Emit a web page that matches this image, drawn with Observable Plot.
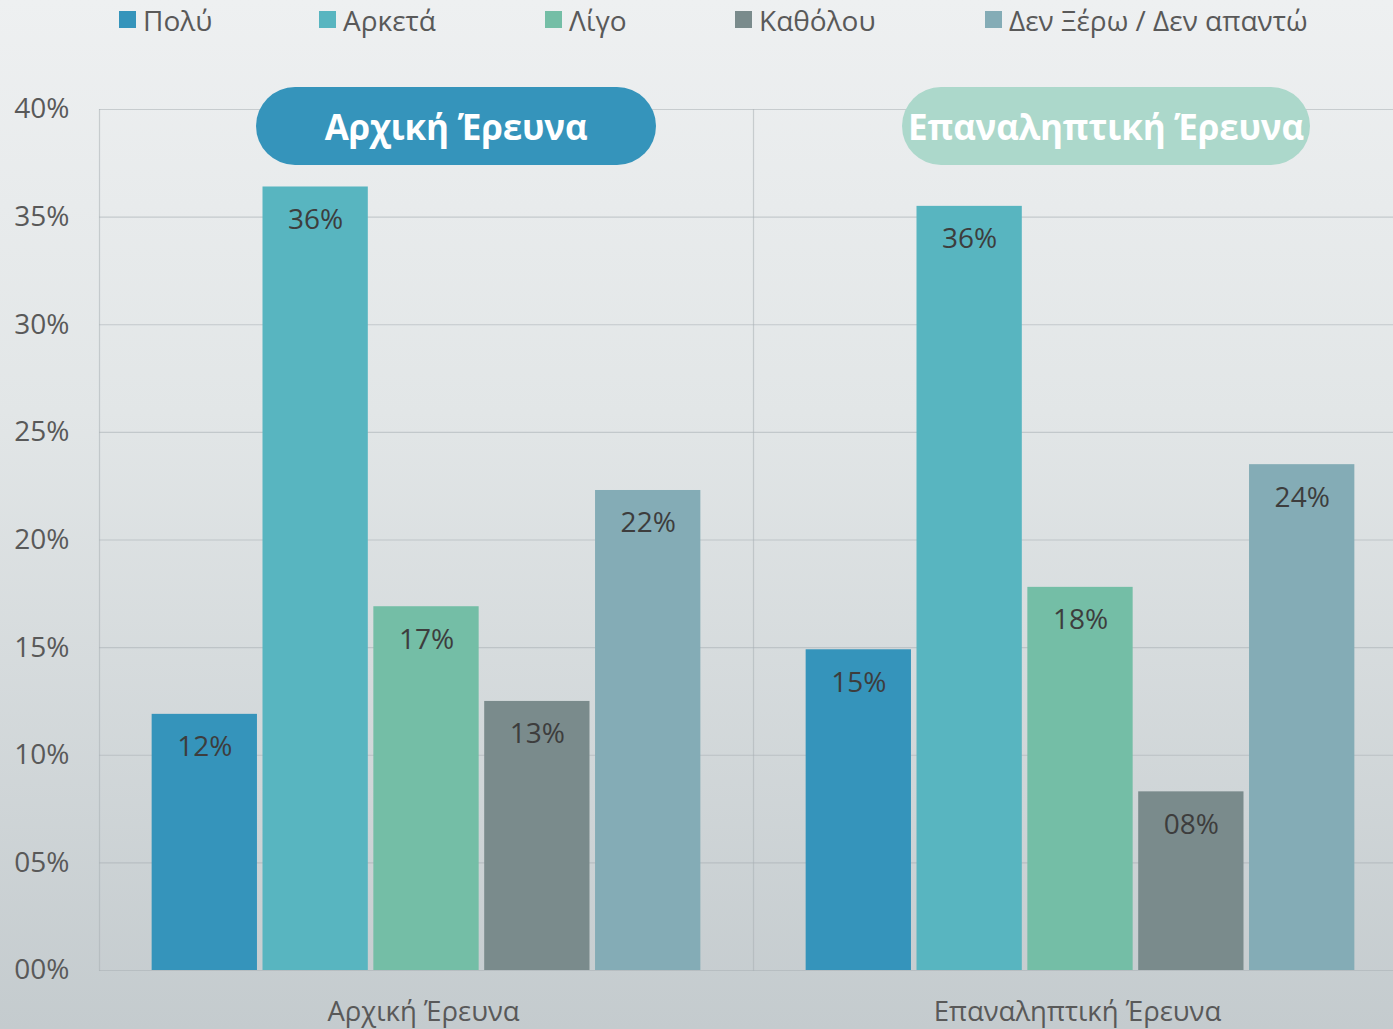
<!DOCTYPE html>
<html>
<head>
<meta charset="utf-8">
<script src="https://cdn.jsdelivr.net/npm/d3@7"></script>
<script src="https://cdn.jsdelivr.net/npm/@observablehq/plot@0.6"></script>
<style>
  html, body { margin: 0; padding: 0; }
  body {
    width: 1393px; height: 1029px; overflow: hidden;
    background: linear-gradient(#eef0f1 0%, #e2e6e7 40%, #c4cbce 100%);
    font-family: "Open Sans", sans-serif;
  }
  #wrap { position: relative; width: 1393px; height: 1029px; }
  #legend {
    height: 45px; display: flex; align-items: center; padding-left: 119px;
    box-sizing: border-box; padding-bottom: 6px;
  }
  .item { display: flex; align-items: center; color: #595959; font-size: 28px; white-space: nowrap; }
  .sw { width: 17px; height: 17px; margin-right: 7px; flex: none; }
  .pill {
    position: absolute; top: 87px; height: 78px; border-radius: 39px;
    display: flex; align-items: center; justify-content: center;
    color: #fff; font-weight: 700; font-size: 35px; white-space: nowrap; letter-spacing: -0.2px;
  }
  svg { overflow: visible; }
</style>
</head>
<body>
<div id="wrap">
  <div id="legend"></div>
  <div id="chart"></div>
</div>
<script>
const groups = ["Αρχική Έρευνα", "Επαναληπτική Έρευνα"];
const categories = ["Πολύ", "Αρκετά", "Λίγο", "Καθόλου", "Δεν Ξέρω / Δεν απαντώ"];
const initialValues = [11.9, 36.4, 16.9, 12.5, 22.3];
const repeatValues = [14.9, 35.5, 17.8, 8.3, 23.5];
const initialLabels = ["12%", "36%", "17%", "13%", "22%"];
const repeatLabels = ["15%", "36%", "18%", "08%", "24%"];
const colors = ["#3594bb", "#58b5c0", "#74bea6", "#7a8b8c", "#84acb6"];
const pillColors = ["#3594bb", "#acd8cb"];
const yTicks = [0, 5, 10, 15, 20, 25, 30, 35, 40];

const rows = groups.flatMap((g, gi) => categories.map((c, i) => ({
  group: g,
  category: c,
  value: gi === 0 ? initialValues[i] : repeatValues[i],
  label: gi === 0 ? initialLabels[i] : repeatLabels[i]
})));

// legend
const legendWidths = [200, 226, 190, 250, 300];
const legend = document.getElementById("legend");
categories.forEach((c, i) => {
  const it = document.createElement("div");
  it.className = "item";
  it.style.width = legendWidths[i] + "px";
  it.innerHTML = `<div class="sw" style="background:${colors[i]}"></div><span>${c}</span>`;
  legend.appendChild(it);
});

const chart = Plot.plot({
  width: 1393,
  height: 984,
  marginLeft: 99,
  marginRight: -14,
  marginTop: 64,
  marginBottom: 59,
  style: { background: "transparent", fontFamily: "Open Sans, sans-serif", color: "#595959", overflow: "visible" },
  fx: { domain: groups, padding: 0, label: null, round: false },
  x: { domain: categories, paddingInner: 0.05, paddingOuter: 0.475, axis: null, round: false },
  y: { domain: [0, 40], label: null },
  color: { domain: categories, range: colors },
  marks: [
    Plot.gridY(yTicks, { stroke: "#a9b1b4", strokeOpacity: 0.55, strokeWidth: 1.2 }),
    Plot.frame({ anchor: "left", stroke: "#a9b1b4", strokeOpacity: 0.55, strokeWidth: 1.2 }),
    Plot.axisY(yTicks, { tickSize: 0, tickPadding: 30, fontSize: 28, tickFormat: d => String(d).padStart(2, "0") + "%", fill: "#595959", label: null }),
    Plot.axisFx({ anchor: "bottom", tickSize: 0, tickPadding: 31, fontSize: 27.5, fill: "#595959", label: null, dx: -3 }),
    Plot.barY(rows, { fx: "group", x: "category", y: "value", fill: "category" }),
    Plot.text(rows, { fx: "group", x: "category", y: "value", text: "label", dy: 33, fontSize: 28, fill: "#3d3d3d" })
  ]
});
document.getElementById("chart").appendChild(chart);

// title pills over each facet band
const wrap = document.getElementById("wrap");
const pillBoxes = [{ left: 256, width: 400 }, { left: 902, width: 408 }];
groups.forEach((g, gi) => {
  const p = document.createElement("div");
  p.className = "pill";
  p.style.left = pillBoxes[gi].left + "px";
  p.style.width = pillBoxes[gi].width + "px";
  p.style.background = pillColors[gi];
  p.textContent = g;
  wrap.appendChild(p);
});
</script>
</body>
</html>
